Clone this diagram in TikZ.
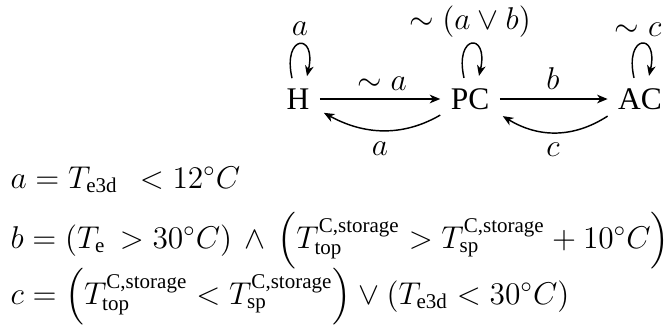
\documentclass[tikz,border=0pt]{standalone}
\usepackage{fontspec}
\setmainfont{Liberation Serif}
\usepackage{amsmath}
\usetikzlibrary{arrows.meta}
\begin{document}
\begin{tikzpicture}[x=0.381pt,y=0.381pt,
  state/.style={inner sep=3.81pt,font=\fontsize{12}{14}\selectfont},
  lbl/.style={inner sep=0pt,anchor=base,font=\fontsize{12}{14}\selectfont},
  eq/.style={inner sep=0pt,anchor=base west,font=\fontsize{12}{14}\selectfont},
  trans/.style={line width=0.55pt,-{Stealth[length=4pt,width=3.3pt,inset=1.2pt]}}]
\useasboundingbox (0,0) rectangle (670,-329);
\node[state] (H) at (298,-99) {H};
\node[state] (PC) at (470,-99) {PC};
\node[state] (AC) at (640,-99) {AC};
% straight arrows
\draw[trans] (H.east) -- (PC.west);
\draw[trans] (PC.east) -- (AC.west);
\node[lbl] (lna) at (382,-90) {$\sim a$};
\node[lbl] (lb) at (553,-89) {$b$};
% return arrows
\draw[trans] ([shift={(0,5)}]PC.south west) .. controls +(-38,-22) and +(40,-22) .. ([shift={(4,7)}]H.south east);
\draw[trans] ([shift={(0,4)}]AC.south west) .. controls +(-34,-22) and +(36,-22) .. ([shift={(3,4)}]PC.south east);
\node[lbl] (la) at (380,-155) {$a$};
\node[lbl] (lc) at (553,-156) {$c$};
% loops
\draw[trans] ([shift={(-6,0)}]H.north) .. controls +(-10,44) and +(10,44) .. ([shift={(9,2)}]H.north);
\draw[trans] ([shift={(-6,0)}]PC.north) .. controls +(-10,44) and +(10,44) .. ([shift={(9,2)}]PC.north);
\draw[trans] ([shift={(-6,0)}]AC.north) .. controls +(-10,44) and +(10,44) .. ([shift={(9,2)}]AC.north);
\node[lbl] (lla) at (300,-35) {$a$};
\node[lbl] (llab) at (470,-30) {$\sim(a\vee b)$};
\node[lbl] (llc) at (638,-36) {$\sim c$};
% equations
\node[eq] (ea) at (10,-188) {$a = T_{\text{e3d}}\ \,< 12^\circ C$};
\node[eq] (eb) at (10,-248) {$b = (T_{\text{e}}\hspace{2pt} > 30^\circ C)\,\wedge\,\left(T^{\text{C,storage}}_{\text{top}} > T^{\text{C,storage}}_{\text{sp}} + 10^\circ C\right)$};
\node[eq] (ec) at (10,-304) {$c = \left(T^{\text{C,storage}}_{\text{top}} < T^{\text{C,storage}}_{\text{sp}}\right) \vee (T_{\text{e3d}} < 30^\circ C)$};
\end{tikzpicture}
\end{document}
